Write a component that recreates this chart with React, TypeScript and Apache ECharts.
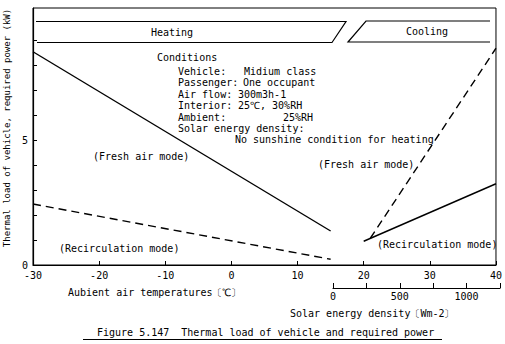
import React, { useEffect, useRef } from "react";
import * as echarts from "echarts";

// Ambient temperature (°C) axis
const tempTicks = [-30, -20, -10, 0, 10, 20, 30, 40];
// Solar energy density axis (W/m2)
const solarMin = 0;
const solarMax = 1250;
const solarLabels = [0, 500, 1000];
// Thermal load axis (kW)
const loadTickValues = [1, 2, 3, 4, 5, 6, 7, 8, 9];
const loadLabelValues = [0, 5];

// Heating, fresh air mode (solid)
const heatFreshX = [-30, 15];
const heatFreshY = [8.53, 1.36];
// Heating, recirculation mode (dashed)
const heatRecircX = [-30, 15];
const heatRecircY = [2.44, 0.23];
// Cooling, fresh air mode (dashed)
const coolFreshX = [21, 40];
const coolFreshY = [1.07, 8.67];
// Cooling, recirculation mode (solid)
const coolRecircX = [20, 40];
const coolRecircY = [0.95, 3.25];

const conditionLabels = ["Vehicle:", "Passenger:", "Air flow:", "Interior:", "Ambient:", "Solar energy density:"];
const conditionValues = ["Midium class", "One occupant", "300m3h-1", "25℃, 30%RH", "25%RH", ""];

const MONO = "'DejaVu Sans Mono', monospace";

const pairs = (xs: number[], ys: number[]) => xs.map((x, i) => [x, ys[i]]);

export default function App() {
  const ref = useRef<HTMLDivElement>(null);
  useEffect(() => {
    document.body.style.margin = "0";
    if (!ref.current) return;
    const chart = echarts.init(ref.current, null, { renderer: "svg" });
    const txt = (text: string, x: number, y: number, extra: any = {}) => ({
      type: "text",
      x,
      y,
      style: {
        text,
        fill: "#000",
        font: `10px ${MONO}`,
        align: "left",
        verticalAlign: "middle",
        ...extra,
      },
    });
    const lineStyle = { color: "#000", width: 1.4 };
    const condY = [71, 82.5, 94, 105.5, 117, 128.5];
    const valueX = [244, 243, 238, 238, 313, 0];
    const graphics: any[] = [
      // Heating / Cooling banners
      {
        type: "polyline",
        shape: { points: [[36, 21.5], [346, 21.5], [332, 42.5], [37, 42.5]] },
        style: { stroke: "#000", lineWidth: 1.2, fill: "none" },
      },
      {
        type: "polyline",
        shape: { points: [[490, 21], [366, 21], [348, 42], [490, 42]] },
        style: { stroke: "#000", lineWidth: 1.2, fill: "none" },
      },
      txt("Heating", 172, 32, { align: "center" }),
      txt("Cooling", 427, 31, { align: "center" }),
      txt("Conditions", 157, 57),
      ...conditionLabels.map((l, i) => txt(l, 178, condY[i])),
      ...conditionValues
        .map((v, i) => (v ? txt(v, valueX[i], condY[i], { align: i === 4 ? "right" : "left" }) : null))
        .filter(Boolean),
      txt("No sunshine condition for heating", 235, 139.5),
      txt("(Fresh air mode)", 93, 156),
      txt("(Recirculation mode)", 59, 248),
      txt("(Fresh air mode)", 318, 164),
      txt("(Recirculation mode)", 377, 244),
      // axis titles
      {
        type: "text",
        x: 7,
        y: 128,
        rotation: Math.PI / 2,
        style: {
          text: "Thermal load of vehicle, required power (kW)",
          fill: "#000",
          font: `9px ${MONO}`,
          align: "center",
          verticalAlign: "middle",
        },
      },
      txt("Aubient air temperatures〔℃〕", 68, 292),
      txt("Solar energy density〔Wm-2〕", 290, 313),
      txt("Figure 5.147  Thermal load of vehicle and required power", 97, 332),
      {
        type: "line",
        shape: { x1: 83, y1: 339.5, x2: 442, y2: 339.5 },
        style: { stroke: "#000", lineWidth: 1 },
      },
    ];

    chart.setOption({
      animation: false,
      backgroundColor: "#fff",
      grid: [
        { left: 33, right: 6, top: 8, bottom: 79, show: true, borderColor: "#000", borderWidth: 1, backgroundColor: "transparent" },
        { left: 333, right: 5, top: 280, height: 8 },
      ],
      xAxis: [
        {
          type: "value",
          gridIndex: 0,
          min: tempTicks[0],
          max: tempTicks[tempTicks.length - 1],
          interval: 10,
          axisLine: { onZero: false, lineStyle: { color: "#000", width: 1.2 } },
          axisTick: { inside: true, length: 4, lineStyle: { color: "#000" } },
          axisLabel: { color: "#000", fontFamily: MONO, fontSize: 10, margin: 5 },
          splitLine: { show: false },
        },
        {
          type: "value",
          gridIndex: 1,
          min: solarMin,
          max: solarMax,
          interval: 250,
          axisLine: { onZero: false, lineStyle: { color: "#000", width: 1.2 } },
          axisTick: { inside: true, length: 5, lineStyle: { color: "#000" } },
          axisLabel: {
            color: "#000",
            fontFamily: MONO,
            fontSize: 10,
            margin: 3,
            customValues: solarLabels,
            formatter: (v: number) => String(v),
          },
          splitLine: { show: false },
        },
      ],
      yAxis: [
        {
          type: "value",
          gridIndex: 0,
          min: 0,
          max: 10.28,
          axisLine: { show: true, onZero: false, lineStyle: { color: "#000", width: 1.2 } },
          axisTick: { show: true, inside: true, length: 4, customValues: loadTickValues, lineStyle: { color: "#000" } },
          axisLabel: { color: "#000", fontFamily: MONO, fontSize: 10, margin: 5, customValues: loadLabelValues },
          splitLine: { show: false },
        },
        { type: "value", gridIndex: 1, show: false, min: 0, max: 1 },
      ],
      series: [
        { type: "line", data: pairs(heatFreshX, heatFreshY), symbol: "none", lineStyle: { ...lineStyle }, silent: true },
        { type: "line", data: pairs(heatRecircX, heatRecircY), symbol: "none", lineStyle: { ...lineStyle, type: [8, 5] }, silent: true },
        { type: "line", data: pairs(coolFreshX, coolFreshY), symbol: "none", lineStyle: { ...lineStyle, type: [8, 5] }, silent: true },
        { type: "line", data: pairs(coolRecircX, coolRecircY), symbol: "none", lineStyle: { ...lineStyle }, silent: true },
      ],
      graphic: graphics,
    });
    return () => chart.dispose();
  }, []);
  return <div ref={ref} style={{ width: 505, height: 344 }} />;
}
